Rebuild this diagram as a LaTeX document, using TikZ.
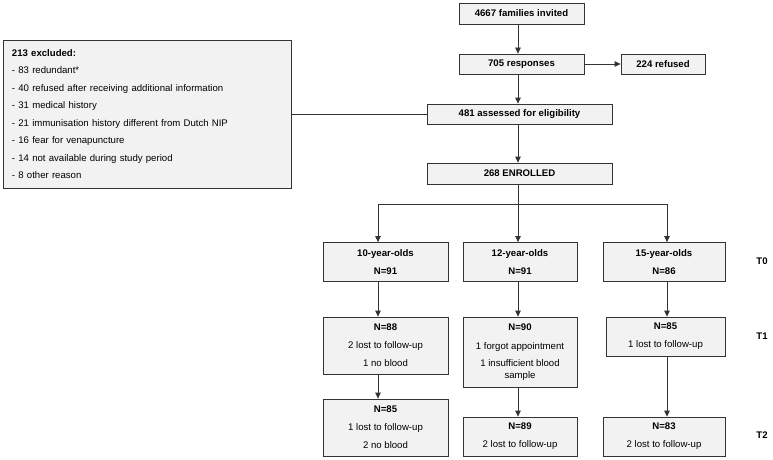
\documentclass[tikz,border=0pt]{standalone}
\usepackage{fontspec}
\setmainfont{Liberation Sans}
\usetikzlibrary{arrows.meta,calc}
\begin{document}
\begin{tikzpicture}[x=1pt,y=-1pt,
  box/.style={draw=black!80, fill=black!5, line width=0.8pt, inner sep=0pt,
    font=\fontsize{9.6}{11.5}\selectfont, align=center},
  ln/.style={draw=black!80, line width=0.8pt},
  arr/.style={ln, -{Triangle[length=6pt,width=5.5pt]}},
  tlab/.style={font=\fontsize{9.6}{11}\selectfont\bfseries, inner sep=0pt}]
\useasboundingbox (0,0) rectangle (773,460);
% top chain
\node[box, minimum width=125pt, minimum height=21pt] (inv) at (521.5,13.5) {\bfseries 4667 families invited};
\node[box, minimum width=125pt, minimum height=20pt] (resp) at (521.5,64) {\bfseries 705 responses};
\node[box, minimum width=84pt, minimum height=20pt] (ref) at (663,64) {\bfseries 224 refused};
\node[box, minimum width=185pt, minimum height=20pt] (elig) at (519.5,114) {\bfseries 481 assessed for eligibility};
\node[box, minimum width=185pt, minimum height=21pt] (enr) at (519.5,173.5) {\bfseries 268 ENROLLED};
% excluded
\node[box, minimum width=288pt, minimum height=148pt, text width=270pt, align=left,
  font=\fontsize{9.6}{17.5}\selectfont] (excl) at (147,114) {%
  \textbf{213 excluded:}\\
  - 83 redundant*\\
  - 40 refused after receiving additional information\\
  - 31 medical history\\
  - 21 immunisation history different from Dutch NIP\\
  - 16 fear for venapuncture\\
  - 14 not available during study period\\
  - 8 other reason};
% columns
\coordinate (c1) at (378,204);
\coordinate (c2) at (518,204);
\coordinate (c3) at (667,204);
% T0
\node[box, minimum width=125pt, minimum height=39pt] (g1) at (385.5,262) {\bfseries 10-year-olds\\[7pt]\bfseries N=91};
\node[box, minimum width=114pt, minimum height=39pt] (g2) at (520,262) {\bfseries 12-year-olds\\[7pt]\bfseries N=91};
\node[box, minimum width=122pt, minimum height=39pt] (g3) at (664,262) {\bfseries 15-year-olds\\[7pt]\bfseries N=86};
% T1
\node[box, minimum width=125pt, minimum height=57pt] (a1) at (385.5,345.5) {\bfseries N=88\\[6.5pt]2 lost to follow-up\\[6.5pt]1 no blood};
\node[box, minimum width=114pt, minimum height=70pt] (a2) at (520,352) {\bfseries N=90\\[7pt]1 forgot appointment\\[6pt]1 insufficient blood\\sample};
\node[box, minimum width=119pt, minimum height=39pt] (a3) at (665.5,336.5) {\bfseries N=85\\[6.5pt]1 lost to follow-up};
% T2
\node[box, minimum width=125pt, minimum height=57pt] (b1) at (385.5,427.5) {\bfseries N=85\\[6.5pt]1 lost to follow-up\\[6.5pt]2 no blood};
\node[box, minimum width=114pt, minimum height=39pt] (b2) at (520,436.5) {\bfseries N=89\\[6.5pt]2 lost to follow-up};
\node[box, minimum width=122pt, minimum height=39pt] (b3) at (664,436.5) {\bfseries N=83\\[6.5pt]2 lost to follow-up};
% time labels
\node[tlab] (t0) at (762,261) {T0};
\node[tlab] (t1) at (762,336) {T1};
\node[tlab] (t2) at (762,435) {T2};
% connectors
\draw[arr] (inv.south -| c2) -- (resp.north -| c2);
\draw[arr] (resp.east) -- (ref.west);
\draw[arr] (resp.south -| c2) -- (elig.north -| c2);
\draw[ln] (excl.east) -- (elig.west);
\draw[arr] (elig.south -| c2) -- (enr.north -| c2);
\draw[ln] (enr.south -| c2) -- (c2);
\draw[ln] (c1) -- (c3);
\draw[arr] (c1) -- (g1.north -| c1);
\draw[arr] (c2) -- (g2.north -| c2);
\draw[arr] (c3) -- (g3.north -| c3);
\draw[arr] (g1.south -| c1) -- (a1.north -| c1);
\draw[arr] (g2.south -| c2) -- (a2.north -| c2);
\draw[arr] (g3.south -| c3) -- (a3.north -| c3);
\draw[arr] (a1.south -| c1) -- (b1.north -| c1);
\draw[arr] (a2.south -| c2) -- (b2.north -| c2);
\draw[arr] (a3.south -| c3) -- (b3.north -| c3);
\end{tikzpicture}
\end{document}
